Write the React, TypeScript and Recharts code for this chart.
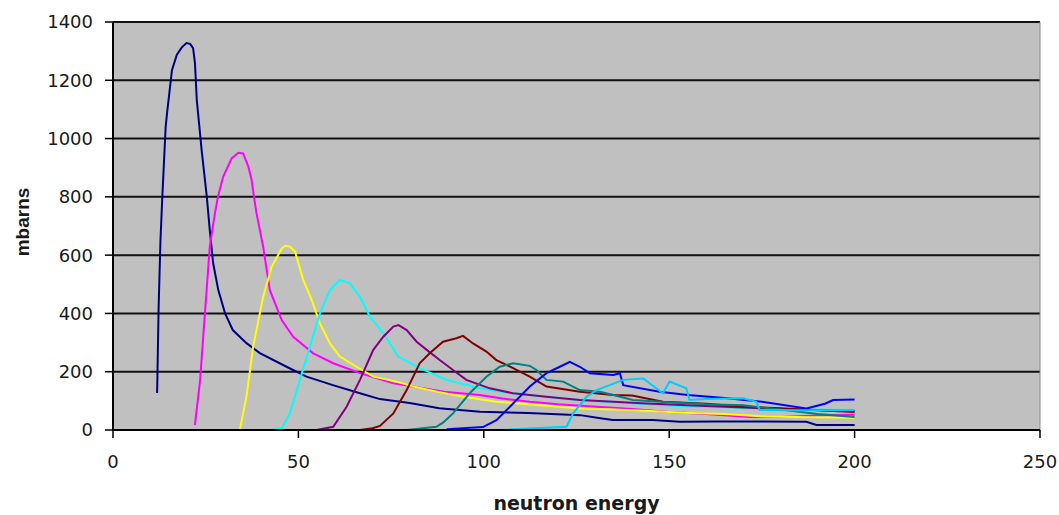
import React from 'react';
import { LineChart, Line, XAxis, YAxis, CartesianGrid, ReferenceLine, Label } from 'recharts';

// neutron energy (x) and cross section in mbarns (y), one pair of arrays per curve
const navyE = [11.9, 12.3, 12.8, 13.3, 14.2, 14.6, 15.9, 17.2, 18.5, 19.8, 20.8, 21.6, 22.1, 22.6, 23.9, 25.3, 26.1, 27.0, 28.4, 30.2, 32.3, 36.0, 39.6, 46.8, 52.2, 59.3, 66.6, 72, 80, 88, 99, 112, 126, 131, 134.8, 145.6, 152.8, 162.7, 175, 187, 189.7, 200];
const navyV = [127, 420, 650, 800, 1040, 1090, 1235, 1287, 1312, 1328, 1325, 1310, 1260, 1132, 961, 800, 686, 573, 480, 401, 343, 298, 264, 217, 183, 154, 126, 106, 93, 75, 63, 58, 51, 41, 34, 34, 28, 29, 29, 28, 17, 17];

const magentaE = [22.1, 23.5, 24.8, 26.1, 27.5, 28.3, 29.7, 32.0, 33.8, 35.1, 36.5, 37.4, 38.0, 38.7, 40.5, 42.3, 45.5, 48.6, 54, 59.4, 66.6, 75.6, 81, 90, 98.9, 105, 112.4, 120, 130.4, 140, 150, 160, 171.7, 180, 190, 200];
const magentaV = [17, 172, 401, 629, 744, 800, 869, 932, 951, 949, 904, 858, 801, 744, 629, 480, 377, 320, 263, 229, 195, 160, 149, 130, 120, 108, 97, 88, 80, 72, 62, 55, 45, 45, 50, 52];

const yellowE = [34.2, 36.0, 37.8, 40.5, 42.8, 45.5, 46.5, 47.7, 49.1, 51.3, 53.6, 55.8, 58.5, 61.2, 65.7, 70.2, 76.5, 81, 88, 94.4, 103.4, 112, 125.9, 135, 145, 153.6, 165, 176.2, 188, 200];
const yellowV = [0, 114, 286, 457, 560, 623, 632, 629, 612, 515, 446, 366, 297, 252, 217, 183, 166, 149, 130, 114, 97, 88, 74, 70, 65, 59, 55, 46, 44, 42];

const cyanE = [42.8, 45.5, 47.7, 50.4, 53.1, 55.8, 58.5, 61.2, 63.9, 66.6, 69.3, 72.9, 76.9, 82.7, 90, 98.9, 105, 112.4, 120, 125.9, 135, 145, 155, 165, 175, 185, 200];
const cyanV = [0, 6, 57, 172, 286, 400, 480, 515, 503, 457, 389, 332, 252, 212, 172, 143, 130, 120, 110, 103, 95, 88, 80, 78, 72, 70, 69];

const purpleE = [54.9, 59.4, 63, 66.6, 70.2, 72.9, 75.6, 77, 79.2, 81.9, 84.6, 88.1, 91.7, 95.3, 101.6, 107.9, 116.9, 125.9, 135, 143.9, 155, 165, 175, 185, 200];
const purpleV = [0, 11, 80, 172, 275, 320, 355, 360, 343, 303, 275, 240, 206, 172, 143, 126, 114, 103, 97, 91, 85, 80, 75, 70, 65];

const maroonE = [66.6, 70, 72, 75.6, 79.2, 82.7, 85.4, 89, 92.6, 94.4, 97.1, 100.7, 103.4, 107.9, 112.4, 116.9, 125.9, 134.9, 140, 148.3, 160, 170, 180, 190, 200];
const maroonV = [0, 6, 14, 57, 137, 229, 263, 303, 315, 323, 297, 269, 240, 212, 183, 149, 131, 120, 118, 97, 90, 80, 75, 68, 62];

const tealE = [79.2, 87.2, 89, 91.7, 96.2, 100.7, 104.3, 107.9, 112.4, 114.2, 116.9, 121.4, 125.9, 131.3, 134.9, 140.2, 150, 160, 170, 180, 190, 200];
const tealV = [0, 11, 25, 57, 126, 183, 217, 229, 220, 206, 172, 166, 137, 131, 120, 103, 95, 88, 85, 70, 55, 45];

const blueE = [90, 99.8, 103.4, 107.9, 112.4, 116.9, 120.5, 123.2, 125.9, 128.6, 134.9, 136.7, 137.6, 147.4, 155, 165, 175, 187, 192, 194.2, 200];
const blueV = [3, 10, 34, 91, 149, 195, 217, 234, 217, 195, 189, 195, 154, 131, 120, 110, 97, 74, 90, 103, 105];

const skyE = [103.4, 122.3, 124.1, 127.7, 130.4, 137.6, 143, 148.3, 150.1, 154.6, 155.5, 160, 169.9, 173.5, 174.4, 185, 200];
const skyV = [0, 11, 57, 114, 137, 172, 177, 126, 166, 143, 103, 106, 109, 97, 69, 68, 69];

const xTicks = [0, 50, 100, 150, 200, 250];
const yTicks = [0, 200, 400, 600, 800, 1000, 1200, 1400];

const toPoints = (es: number[], vs: number[]) => es.map((e, i) => ({ e, v: vs[i] }));

const series = [
  { name: 'navy', color: '#000080', data: toPoints(navyE, navyV) },
  { name: 'magenta', color: '#ff00ff', data: toPoints(magentaE, magentaV) },
  { name: 'yellow', color: '#ffff00', data: toPoints(yellowE, yellowV) },
  { name: 'cyan', color: '#00ffff', data: toPoints(cyanE, cyanV) },
  { name: 'purple', color: '#800080', data: toPoints(purpleE, purpleV) },
  { name: 'maroon', color: '#800000', data: toPoints(maroonE, maroonV) },
  { name: 'teal', color: '#008080', data: toPoints(tealE, tealV) },
  { name: 'blue', color: '#0000ff', data: toPoints(blueE, blueV) },
  { name: 'sky', color: '#00ccff', data: toPoints(skyE, skyV) },
];

const tickStyle = { fontFamily: '"DejaVu Sans", sans-serif', fontSize: 18, fill: '#1a1a1a' };

const YTitle = (props: any) => {
  const vb = props.viewBox || { x: 0, y: 22, height: 408 };
  const cx = 22;
  const cy = vb.y + vb.height / 2 - 4;
  return (
    <text
      x={cx}
      y={cy}
      transform={`rotate(-90 ${cx} ${cy})`}
      textAnchor="middle"
      dominantBaseline="central"
      style={{ fontFamily: '"Liberation Sans", Arial, sans-serif', fontSize: 19, fontWeight: 'bold', fill: '#1a1a1a' }}
    >
      mbarns
    </text>
  );
};

const App: React.FC = () => {
  return (
    <div style={{ position: 'absolute', left: 0, top: 0, width: 1059, height: 515, background: '#fff' }}>
      <LineChart width={1059} height={515} margin={{ top: 22, right: 19, bottom: 0, left: 0 }}>
        <CartesianGrid vertical={false} horizontal={true} fill="#c0c0c0" stroke="#111" strokeWidth={2} />
        <XAxis
          type="number"
          dataKey="e"
          domain={[0, 250]}
          ticks={xTicks}
          allowDataOverflow
          height={85}
          tickSize={8}
          tickMargin={17}
          tick={tickStyle}
          axisLine={{ stroke: '#000', strokeWidth: 2 }}
          tickLine={{ stroke: '#000', strokeWidth: 1.5 }}
        >
          <Label
            value="neutron energy"
            position="insideBottom"
            offset={5}
            style={{ fontFamily: '"DejaVu Sans", sans-serif', fontSize: 19, fontWeight: 'bold', fill: '#1a1a1a' }}
          />
        </XAxis>
        <YAxis
          type="number"
          domain={[0, 1400]}
          ticks={yTicks}
          width={113}
          tickSize={8}
          tickMargin={12}
          tick={tickStyle}
          axisLine={{ stroke: '#000', strokeWidth: 2 }}
          tickLine={{ stroke: '#000', strokeWidth: 1.5 }}
        >
          <Label content={YTitle} />
        </YAxis>
        <ReferenceLine x={250} stroke="#8a8a8a" strokeWidth={1} />
        {series.map(s => (
          <Line
            key={s.name}
            data={s.data}
            dataKey="v"
            type="linear"
            stroke={s.color}
            strokeWidth={2}
            dot={false}
            activeDot={false}
            isAnimationActive={false}
          />
        ))}
      </LineChart>
    </div>
  );
};

export default App;
